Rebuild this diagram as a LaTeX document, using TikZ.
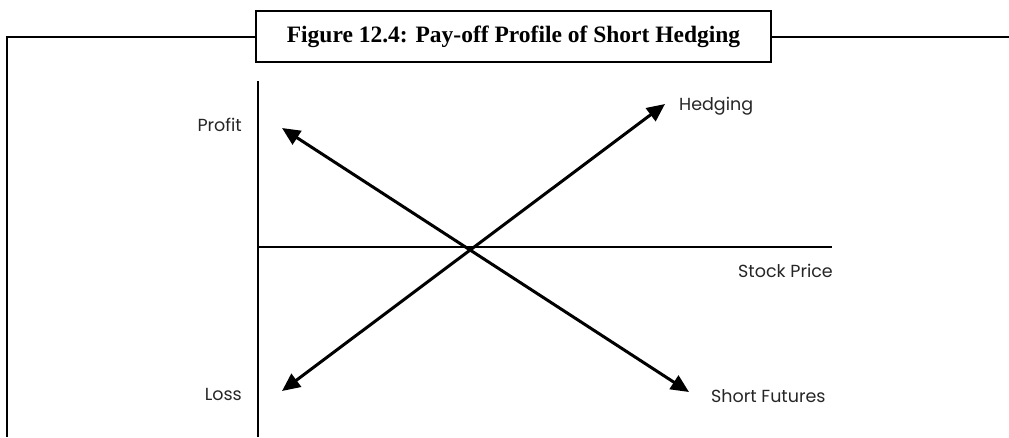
\documentclass[tikz,border=0pt]{standalone}
\usepackage{fontspec}
\setmainfont{Liberation Serif}
\newfontfamily\labfont{Poppins}
\usetikzlibrary{arrows.meta}
\begin{document}
\begin{tikzpicture}[x=1pt,y=-1pt,
  frameline/.style={line width=2pt,black},
  axisline/.style={line width=1.6pt,black},
  payoff/.style={line width=3pt,black,{Triangle[length=18pt,width=16pt]}-{Triangle[length=18pt,width=16pt]}},
  lab/.style={inner sep=0pt,font=\labfont\fontsize{17.5}{21}\selectfont,text=black!85},
  titlebox/.style={draw,line width=2pt,minimum width=515pt,minimum height=51pt,inner sep=0pt,font=\bfseries\fontsize{23.5}{28}\selectfont}]
\useasboundingbox (0,0) rectangle (1009,437);
% title and frame
\node[titlebox] (title) at (513.5,36.5) {Figure 12.4: Pay-off Profile of Short Hedging};
\coordinate (fbl) at (7,437);
\coordinate (ftl) at (7,37);
\coordinate (ftr) at (1009,37);
\draw[frameline] (fbl) -- (ftl) -- (title.west |- ftl);
\draw[frameline] (title.east |- ftr) -- (ftr);
% axes
\coordinate (ytop) at (258,81);
\coordinate (ybot) at (258,437);
\coordinate (xl) at (258,247);
\coordinate (xr) at (832,247);
\draw[axisline] (ytop) -- (ybot);
\draw[axisline] (xl) -- (xr);
% pay-off lines
\coordinate (hA) at (282,391);
\coordinate (hB) at (665,104);
\coordinate (sA) at (282,128);
\coordinate (sB) at (689,392);
\draw[payoff] (hA) -- (hB);
\draw[payoff] (sA) -- (sB);
% labels
\node[lab,anchor=base east] (profit) at (242,131) {Profit};
\node[lab,anchor=base east] (loss) at (242,400) {Loss};
\node[lab,anchor=base west] (hedging) at (679,110) {Hedging};
\node[lab,anchor=base east] (stock) at (833,277) {Stock Price};
\node[lab,anchor=base west] (short) at (711,402) {Short Futures};
\end{tikzpicture}
\end{document}
